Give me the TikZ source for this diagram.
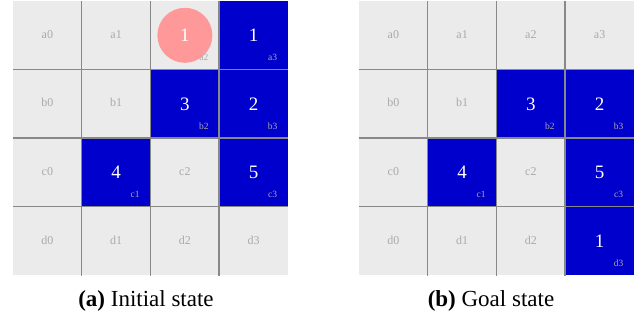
\documentclass[tikz,border=0pt]{standalone}
\usepackage{fontspec}
\setmainfont{Liberation Serif}
\usepackage{tikz}
\usetikzlibrary{positioning, calc}

\definecolor{cellgray}{HTML}{EBEBEB}
\definecolor{gridgray}{HTML}{888888}
\definecolor{labelgray}{HTML}{AAAAAA}
\definecolor{blockblue}{HTML}{0000CC}
\definecolor{tokenpink}{HTML}{FF9999}

% blocks on each grid: \csname blk-<grid>-<cell>\endcsname holds the number
\expandafter\def\csname blk-L-a3\endcsname{1}
\expandafter\def\csname blk-L-b2\endcsname{3}
\expandafter\def\csname blk-L-b3\endcsname{2}
\expandafter\def\csname blk-L-c1\endcsname{4}
\expandafter\def\csname blk-L-c3\endcsname{5}
\expandafter\def\csname blk-R-b2\endcsname{3}
\expandafter\def\csname blk-R-b3\endcsname{2}
\expandafter\def\csname blk-R-c1\endcsname{4}
\expandafter\def\csname blk-R-c3\endcsname{5}
\expandafter\def\csname blk-R-d3\endcsname{1}
% held block (drawn as a disc)
\expandafter\def\csname held-L-a2\endcsname{1}

\begin{document}
\begin{tikzpicture}[
        x=1pt, y=-1pt,
        cell/.style={rectangle, fill=cellgray, minimum width=68.75pt, minimum height=68.6pt, inner sep=0pt, text=labelgray, font=\fontsize{12}{12}\selectfont},
        block/.style={cell, fill=blockblue, text=white, font=\fontsize{19}{19}\selectfont},
        token/.style={circle, fill=tokenpink, minimum size=55pt, inner sep=0pt, text=white, font=\fontsize{19}{19}\selectfont},
        tag/.style={text=labelgray, inner sep=0pt, font=\fontsize{9.5}{9.5}\selectfont},
        gridline/.style={draw=gridgray, line width=1.35pt},
        caption/.style={anchor=base, font=\fontsize{23}{23}\selectfont}
    ]
        \useasboundingbox (0,0) rectangle (641,320);

        % --- GRIDS ---
        \foreach \g/\xo in {L/13, R/359} {
            \foreach \r [count=\i from 0] in {a,b,c,d} {
                \foreach \c in {0,...,3} {
                    \ifcsname blk-\g-\r\c\endcsname
                        \node[block] (\g-\r\c) at (\xo+34.375+68.75*\c, 35.3+68.6*\i) {\csname blk-\g-\r\c\endcsname};
                        \node[tag] at ($(\g-\r\c)+(19,22)$) {\r\c};
                    \else\ifcsname held-\g-\r\c\endcsname
                        \node[cell] (\g-\r\c) at (\xo+34.375+68.75*\c, 35.3+68.6*\i) {};
                        \node[token] (\g-\r\c-held) at (\g-\r\c) {\csname held-\g-\r\c\endcsname};
                        \node[tag] at ($(\g-\r\c)+(19,22)$) {\r\c};
                    \else
                        \node[cell] (\g-\r\c) at (\xo+34.375+68.75*\c, 35.3+68.6*\i) {\raisebox{2.5pt}{\r\c}};
                    \fi\fi
                }
            }
            % inner lines
            \foreach \c in {1,2,3} {
                \draw[gridline] (\g-a\c.north west) -- (\g-d\c.south west);
            }
            \foreach \r in {b,c,d} {
                \draw[gridline] (\g-\r0.north west) -- (\g-\r3.north east);
            }
        }

        % --- CAPTIONS ---
        \node[caption] (cap-a) at (146,307) {\textbf{(a)} Initial state};
        \node[caption] (cap-b) at (491,307) {\textbf{(b)} Goal state};

    \end{tikzpicture}
\end{document}
